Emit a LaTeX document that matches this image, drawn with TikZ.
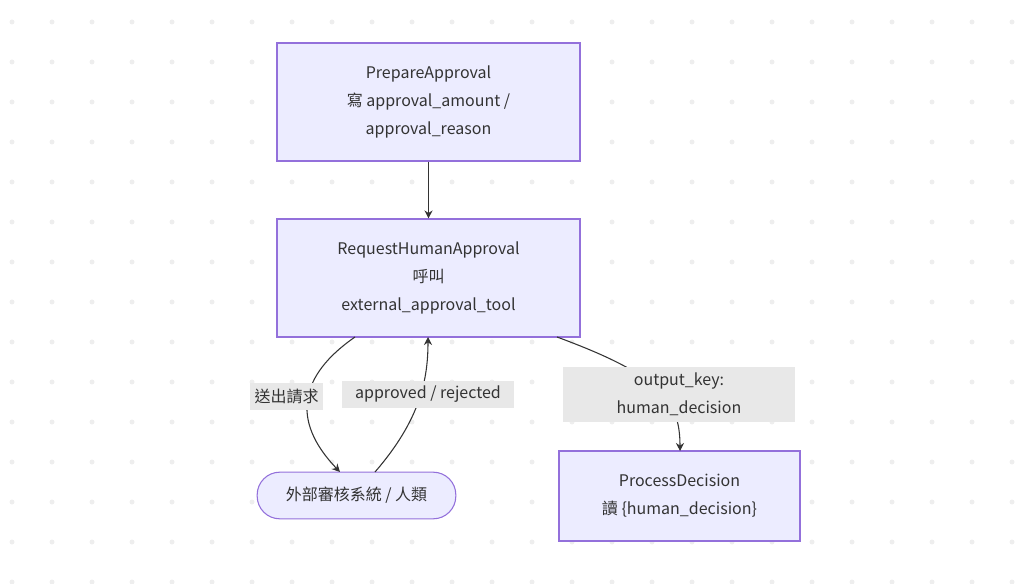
\documentclass[tikz,border=0pt]{standalone}
\usepackage{fontspec}
\setmainfont{Noto Sans CJK TC}
\usetikzlibrary{positioning,arrows.meta}
\definecolor{boxfill}{HTML}{ECECFF}
\definecolor{boxline}{HTML}{9370DB}
\definecolor{lblfill}{HTML}{E8E8E8}
\definecolor{dotcol}{HTML}{EEEEEE}
\definecolor{edgecol}{HTML}{333333}
\begin{document}
\begin{tikzpicture}[x=0.75pt,y=-0.75pt,font=\fontsize{12}{21}\selectfont]
        \tikzset{
            box/.style={
                    draw=boxline,
                    fill=boxfill,
                    line width=0.8pt,
                    align=center,
                    text=edgecol
                },
            pill/.style={box, rounded corners=17pt},
            lbl/.style={
                    fill=lblfill,
                    align=center,
                    inner sep=2pt,
                    text=edgecol
                },
            edge/.style={
                    draw=edgecol,
                    line width=0.8pt,
                    -{Stealth[length=6pt,width=6pt]}
                }
        }
        \useasboundingbox (0,0) rectangle (1024,584);
        \foreach \i in {0,...,25}
            \foreach \j in {0,...,14}
                \fill[dotcol] (12+40*\i,22+40*\j) circle (2.5);
        \node[box, minimum width=227.25pt, minimum height=88.5pt] (prep) at (428.5,102)
            {PrepareApproval\\寫 approval\_amount /\\approval\_reason};
        \node[box, minimum width=227.25pt, minimum height=88.5pt] (req) at (428.5,278)
            {RequestHumanApproval\\呼叫\\external\_approval\_tool};
        \node[pill, minimum width=149pt, minimum height=35pt] (ext) at (356.5,495.5)
            {外部審核系統 / 人類};
        \node[box, minimum width=180.75pt, minimum height=67.5pt] (proc) at (679.5,496)
            {ProcessDecision\\讀 \{human\_decision\}};
        % connectors
        \draw[edge] (prep) -- (req);
        \draw[edge] (355,337) .. controls (300,375) and (290,420) .. (340,472);
        \draw[edge] (375,472) .. controls (420,420) and (428,380) .. (428,337);
        \draw[edge] (557,337) .. controls (660,375) and (680,400) .. (680,451);
        \node[lbl, minimum width=55pt, minimum height=20pt] (l1) at (286.5,396.5) {送出請求};
        \node[lbl, minimum width=129pt, minimum height=20pt] (l2) at (428,394.5) {approved / rejected};
        \node[lbl, minimum width=174pt, minimum height=41pt] (l3) at (679,394.5) {output\_key:\\human\_decision};
\end{tikzpicture}
\end{document}
